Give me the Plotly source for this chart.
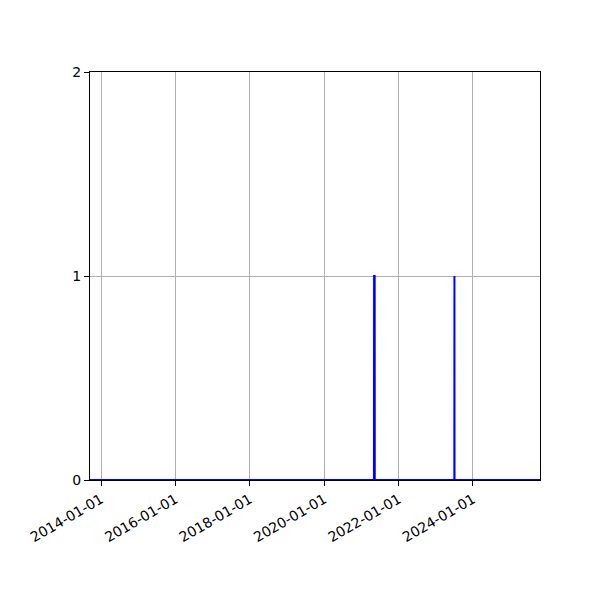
import plotly.graph_objects as go

# dates where the series changes (0 / 1 indicator)
dates = ["2013-09-15", "2021-05-04", "2021-05-05", "2021-05-11", "2021-05-12",
         "2023-07-02", "2023-07-03", "2023-07-04", "2025-10-20"]
values = [0, 0, 1, 1, 0, 0, 1, 0, 0]

x_ticks = ["2014-01-01", "2016-01-01", "2018-01-01", "2020-01-01", "2022-01-01", "2024-01-01"]
y_ticks = [0, 1, 2]

fig = go.Figure(go.Scatter(
    x=dates, y=values, mode="lines",
    line=dict(color="#0000ff", width=2),
    showlegend=False,
))

axis_style = dict(
    showline=True, linecolor="black", linewidth=1, mirror=True,
    showgrid=True, gridcolor="#b0b0b0", gridwidth=1,
    ticks="outside", ticklen=5, tickcolor="black",
    zeroline=False,
    tickfont=dict(family="DejaVu Sans", size=14, color="black"),
)

fig.update_xaxes(
    type="date", range=["2013-09-15", "2025-10-20"],
    tickvals=x_ticks, ticktext=x_ticks, tickangle=-30,
    **axis_style,
)
fig.update_yaxes(range=[0, 2], tickvals=y_ticks, **axis_style)

# page body adds ~8px offset, so shift margins accordingly
fig.update_layout(
    width=600, height=600,
    margin=dict(l=82, r=68, t=64, b=128),
    plot_bgcolor="white", paper_bgcolor="white",
)

fig.write_html("out.html")
